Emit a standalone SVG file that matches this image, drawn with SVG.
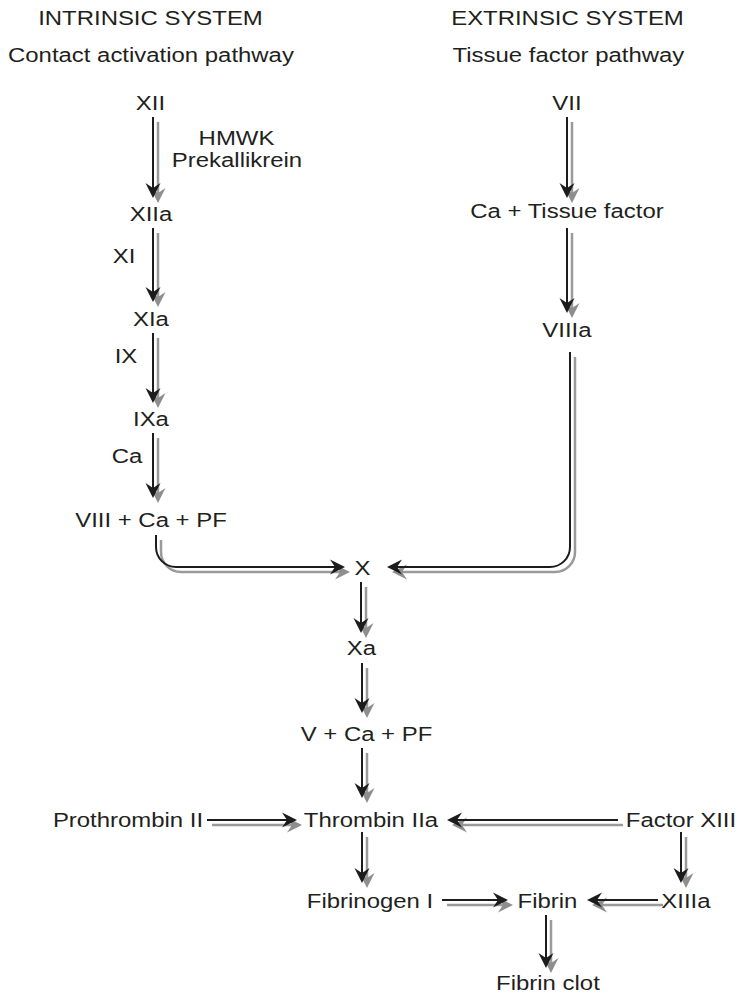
<svg xmlns="http://www.w3.org/2000/svg" width="739" height="993" viewBox="0 0 739 993">
<style>
text{font-family:"Liberation Sans",Arial,sans-serif;font-size:21px;fill:#231f20;text-anchor:middle;transform-box:fill-box;transform-origin:center;transform:scaleX(1.14)}
.bk{fill:none;stroke:#1c1c1c;stroke-width:2;marker-end:url(#ah)}
.sh{fill:none;stroke:#9a9a9a;stroke-width:2.5;marker-end:url(#ahg)}
</style>
<defs>
<marker id="ah" markerWidth="16" markerHeight="16" viewBox="-15 -8 16 16" refX="-6" refY="0" orient="auto" markerUnits="userSpaceOnUse"><path d="M0,0 L-15,-7.5 L-10,0 L-15,7.5 Z" fill="#1c1c1c"/></marker>
<marker id="ahg" markerWidth="16" markerHeight="16" viewBox="-15 -8 16 16" refX="-6" refY="0" orient="auto" markerUnits="userSpaceOnUse"><path d="M0,0 L-15,-7.5 L-10,0 L-15,7.5 Z" fill="#8e8e8e"/></marker>
</defs>
<rect width="739" height="993" fill="#fff"/>
<g id="connectors">
<g id="shadows" transform="translate(5,5)">
<path class="sh" d="M153,117 V192"/>
<path class="sh" d="M153,228 V296"/>
<path class="sh" d="M153,333 V397"/>
<path class="sh" d="M153,433 V492"/>
<path class="sh" d="M567,117 V192"/>
<path class="sh" d="M567,228 V307"/>
<path class="sh" d="M361,582 V627"/>
<path class="sh" d="M362,663 V707"/>
<path class="sh" d="M362,748 V792"/>
<path class="sh" d="M362,832 V877"/>
<path class="sh" d="M681,832 V877"/>
<path class="sh" d="M546,915 V962"/>
<path class="sh" d="M207,820 H291"/>
<path class="sh" d="M618,820 H453"/>
<path class="sh" d="M442,900 H502"/>
<path class="sh" d="M658,900 H593"/>
<path class="sh" d="M156,535 V547 A20,20 0 0 0 176,567 H339"/>
<path class="sh" d="M570,352 V547 A20,20 0 0 1 550,567 H393"/>
</g>
<g id="lines">
<path class="bk" d="M153,117 V192"/>
<path class="bk" d="M153,228 V296"/>
<path class="bk" d="M153,333 V397"/>
<path class="bk" d="M153,433 V492"/>
<path class="bk" d="M567,117 V192"/>
<path class="bk" d="M567,228 V307"/>
<path class="bk" d="M361,582 V627"/>
<path class="bk" d="M362,663 V707"/>
<path class="bk" d="M362,748 V792"/>
<path class="bk" d="M362,832 V877"/>
<path class="bk" d="M681,832 V877"/>
<path class="bk" d="M546,915 V962"/>
<path class="bk" d="M207,820 H291"/>
<path class="bk" d="M618,820 H453"/>
<path class="bk" d="M442,900 H502"/>
<path class="bk" d="M658,900 H593"/>
<path class="bk" d="M156,535 V547 A20,20 0 0 0 176,567 H339"/>
<path class="bk" d="M570,352 V547 A20,20 0 0 1 550,567 H393"/>
</g>
</g>
<g id="headings">
<text x="150.5" y="25">INTRINSIC SYSTEM</text>
<text x="567.5" y="25">EXTRINSIC SYSTEM</text>
<text x="151" y="62">Contact activation pathway</text>
<text x="568.5" y="62">Tissue factor pathway</text>
</g>
<g id="n-XII"><text x="150.5" y="110">XII</text></g>
<g id="n-HMWK"><text x="236.5" y="145">HMWK</text><text x="237" y="167">Prekallikrein</text></g>
<g id="n-XIIa"><text x="151" y="221">XIIa</text></g>
<g id="n-XI"><text x="124" y="263">XI</text></g>
<g id="n-XIa"><text x="151" y="326">XIa</text></g>
<g id="n-IX"><text x="126" y="363">IX</text></g>
<g id="n-IXa"><text x="151" y="426">IXa</text></g>
<g id="n-Ca"><text x="127" y="463">Ca</text></g>
<g id="n-VIII"><text x="151" y="527">VIII + Ca + PF</text></g>
<g id="n-VII"><text x="567" y="110">VII</text></g>
<g id="n-CaTF"><text x="567" y="218">Ca + Tissue factor</text></g>
<g id="n-VIIIa"><text x="567" y="337">VIIIa</text></g>
<g id="n-X"><text x="362.5" y="575">X</text></g>
<g id="n-Xa"><text x="361.5" y="655">Xa</text></g>
<g id="n-V"><text x="366.5" y="741">V + Ca + PF</text></g>
<g id="n-Prothrombin"><text x="128" y="827">Prothrombin II</text></g>
<g id="n-Thrombin"><text x="371" y="827">Thrombin IIa</text></g>
<g id="n-FactorXIII"><text x="681" y="827">Factor XIII</text></g>
<g id="n-Fibrinogen"><text x="370" y="908">Fibrinogen I</text></g>
<g id="n-Fibrin"><text x="547.5" y="908">Fibrin</text></g>
<g id="n-XIIIa"><text x="686" y="908">XIIIa</text></g>
<g id="n-Clot"><text x="548" y="990">Fibrin clot</text></g>
</svg>
